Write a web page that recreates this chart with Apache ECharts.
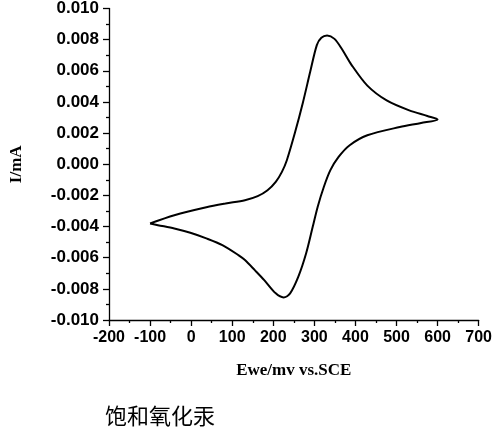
<!DOCTYPE html>
<html>
<head>
<meta charset="utf-8">
<script src="https://cdn.jsdelivr.net/npm/echarts@6/dist/echarts.min.js"></script>
<style>
  html, body { margin: 0; padding: 0; background: #fff; }
  #main { width: 495px; height: 431px; }
</style>
</head>
<body>
<div id="main"></div>
<script>
// 循环伏安曲线
const potential = [-100, -41, 37, 84, 131, 162, 186, 206, 221, 233, 253, 272, 290, 306, 317, 331, 349, 367, 390, 429, 476, 531, 575, 600,
  560, 508, 429, 386, 359, 339, 323, 308, 296, 280, 261, 241, 225, 206, 178, 155, 131, 115, 76, 37, -2, -41, -81, -100];
const current = [-0.00380, -0.00327, -0.00276, -0.00252, -0.00231, -0.00205, -0.00167, -0.00113, -0.00049, 0.00026, 0.00205, 0.00395, 0.00595, 0.00765, 0.00812, 0.00827, 0.00805, 0.00740, 0.00640, 0.00505, 0.00410, 0.00346, 0.00310, 0.00288,
  0.00265, 0.00239, 0.00186, 0.00122, 0.00047, -0.00038, -0.00146, -0.00274, -0.00402, -0.00572, -0.00722, -0.00829, -0.00855, -0.00829, -0.00744, -0.00680, -0.00615, -0.00583, -0.00519, -0.00476, -0.00440, -0.00412, -0.00391, -0.00380];

const X_MIN = -200, X_MAX = 700, X_STEP = 100;
const Y_MIN = -0.010, Y_MAX = 0.010, Y_STEP = 0.002;

const chart = echarts.init(document.getElementById('main'));

const axisCommon = {
  axisLine: { show: true, onZero: false, lineStyle: { color: '#000', width: 1.3 } },
  axisTick: { show: true, inside: false, length: 6, lineStyle: { color: '#000', width: 1.3 } },
  minorTick: { show: true, splitNumber: 2, length: 3, lineStyle: { color: '#000', width: 1.3 } },
  splitLine: { show: false },
  axisLabel: { color: '#000', fontFamily: 'Liberation Sans, Arial', fontWeight: 'bold', fontSize: 16, margin: 10 },
  nameTextStyle: { color: '#000', fontFamily: 'Liberation Serif, Times New Roman', fontWeight: 'bold', fontSize: 17 }
};

let option = {
  animation: false,
  title: {
    text: '饱和氧化汞',
    left: 100,
    top: 400,
    textStyle: { fontFamily: 'Noto Sans CJK SC', fontWeight: 'normal', fontSize: 22, color: '#000' }
  },
  grid: { left: 99, right: 13, top: 8, bottom: 111, containLabel: false },
  xAxis: Object.assign({}, axisCommon, {
    type: 'value',
    min: X_MIN,
    max: X_MAX,
    interval: X_STEP,
    name: 'Ewe/mv vs.SCE',
    nameLocation: 'middle',
    nameGap: 42
  }),
  yAxis: Object.assign({}, axisCommon, {
    type: 'value',
    min: Y_MIN,
    max: Y_MAX,
    interval: Y_STEP,
    name: 'I/mA',
    nameLocation: 'middle',
    nameGap: 84,
    axisLabel: Object.assign({}, axisCommon.axisLabel, {
      fontSize: 17,
      formatter: v => v.toFixed(3)
    })
  }),
  series: [
    {
      type: 'line',
      data: potential.map((p, i) => [p, current[i]]),
      showSymbol: false,
      smooth: 0.3,
      lineStyle: { color: '#000', width: 2 }
    }
  ]
};

chart.setOption(option);
</script>
</body>
</html>
